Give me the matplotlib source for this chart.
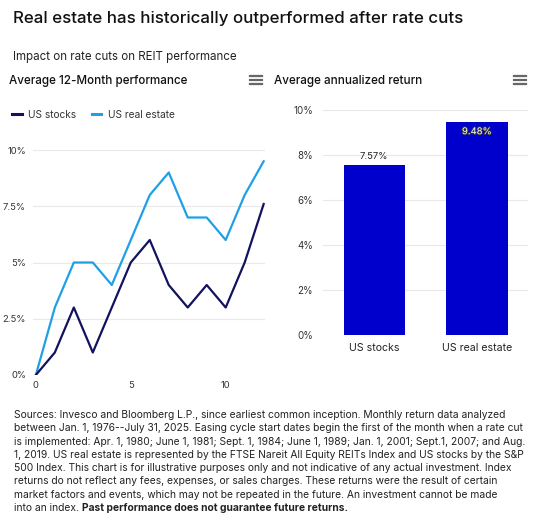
import matplotlib
matplotlib.use("Agg")
import matplotlib.pyplot as plt
import matplotlib.patheffects as pe
from matplotlib.lines import Line2D

plt.rcParams['font.family'] = ['Inter', 'DejaVu Sans']

# data
months = [0, 1, 2, 3, 4, 5, 6, 7, 8, 9, 10, 11, 12]
us_stocks = [0, 1, 3, 1, 3, 5, 6, 4, 3, 4, 3, 5, 7.6]
us_real_estate = [0, 3, 5, 5, 4, 6, 8, 9, 7, 7, 6, 8, 9.5]
line_ticks = [0, 2.5, 5, 7.5, 10]
line_tick_labels = ['0%', '2.5%', '5%', '7.5%', '10%']

bar_categories = ['US stocks', 'US real estate']
bar_values = [7.57, 9.48]
bar_ticks = [0, 2, 4, 6, 8, 10]

W, H = 542, 520
fig = plt.figure(figsize=(W / 100, H / 100), dpi=100)


def box(x0, y0, x1, y1):
    # pixel box (top-left origin) -> figure fraction
    return [x0 / W, 1 - y1 / H, (x1 - x0) / W, (y1 - y0) / H]


def px(x, y):
    return x / W, 1 - y / H


STOCK_C = '#12125e'
RE_C = '#1fa0e6'
BAR_C = '#0000cc'
GRID_C = '#e8e8e8'
TXT_C = '#222222'

fig.text(*px(13, 19), 'Real estate has historically outperformed after rate cuts',
         fontsize=12.2, fontweight='medium', color='#111111', va='center')
fig.text(*px(13, 57), 'Impact on rate cuts on REIT performance',
         fontsize=8.3, color=TXT_C, va='center')
fig.text(*px(9, 81), 'Average 12-Month performance',
         fontsize=8.4, fontweight='medium', color='#111111', va='center')
fig.text(*px(274, 81), 'Average annualized return',
         fontsize=8.4, fontweight='medium', color='#111111', va='center')

# hamburger menus
for xm in (250, 514):
    for ym in (76, 80, 84):
        fig.add_artist(Line2D([xm / W, (xm + 12) / W], [1 - ym / H, 1 - ym / H],
                              color='#666666', lw=1.6, transform=fig.transFigure))

# line chart
ax1 = fig.add_axes(box(33, 150, 265, 375))
ax1.plot(months, us_real_estate, color=RE_C, lw=1.6, label='US real estate')
ax1.plot(months, us_stocks, color=STOCK_C, lw=1.6, label='US stocks')
ax1.set_xlim(-0.15, 12.07)
ax1.set_ylim(0, 10)
ax1.set_yticks(line_ticks)
ax1.set_yticklabels(line_tick_labels)
ax1.set_xticks([0, 5, 10])
ax1.grid(axis='y', color=GRID_C, lw=0.8)
ax1.set_axisbelow(True)
ax1.tick_params(axis='both', length=0, labelsize=6.8, colors='#333333')
ax1.tick_params(axis='y', pad=5)
ax1.tick_params(axis='x', pad=4)
for s in ax1.spines.values():
    s.set_visible(False)
ax1.patch.set_alpha(0)

handles = [Line2D([0], [0], color=STOCK_C, lw=2.2), Line2D([0], [0], color=RE_C, lw=2.2)]
fig.legend(handles, ['US stocks', 'US real estate'], loc='center left',
           bbox_to_anchor=px(3, 115), ncol=2, frameon=False, fontsize=7.3,
           handlelength=0.95, handletextpad=0.65, columnspacing=1.5,
           labelcolor='#333333')

# bar chart
ax2 = fig.add_axes(box(323, 110, 528, 335))
bars = ax2.bar(range(len(bar_categories)), bar_values, width=0.6, color=BAR_C)
ax2.set_xlim(-0.5, 1.5)
ax2.set_ylim(0, 10)
ax2.set_yticks(bar_ticks)
ax2.set_yticklabels([f'{t}%' for t in bar_ticks])
ax2.set_xticks(range(len(bar_categories)))
ax2.set_xticklabels(bar_categories)
ax2.grid(axis='y', color=GRID_C, lw=0.8)
ax2.set_axisbelow(True)
ax2.tick_params(axis='y', length=0, labelsize=7.0, colors='#333333', pad=7)
ax2.tick_params(axis='x', length=0, labelsize=7.6, colors='#222222', pad=6)
for s in ax2.spines.values():
    s.set_visible(False)
ax2.patch.set_alpha(0)

ax2.annotate(f'{bar_values[0]:.2f}%', (0, bar_values[0]), xytext=(0, 3),
             textcoords='offset points', ha='center', va='bottom',
             fontsize=6.8, color='#222222')
ax2.annotate(f'{bar_values[1]:.2f}%', (1, bar_values[1]), xytext=(0, -4),
             textcoords='offset points', ha='center', va='top',
             fontsize=6.8, color='white',
             path_effects=[pe.withStroke(linewidth=1.2, foreground='#333333')])

# footnote
notes = [
    'Sources: Invesco and Bloomberg L.P., since earliest common inception. Monthly return data analyzed',
    'between Jan. 1, 1976--July 31, 2025. Easing cycle start dates begin the first of the month when a rate cut',
    'is implemented: Apr. 1, 1980; June 1, 1981; Sept. 1, 1984; June 1, 1989; Jan. 1, 2001; Sept.1, 2007; and Aug.',
    '1, 2019. US real estate is represented by the FTSE Nareit All Equity REITs Index and US stocks by the S&P',
    '500 Index. This chart is for illustrative purposes only and not indicative of any actual investment. Index',
    'returns do not reflect any fees, expenses, or sales charges. These returns were the result of certain',
    'market factors and events, which may not be repeated in the future. An investment cannot be made',
]
y0 = 415
step = 13.3
for i, line in enumerate(notes):
    fig.text(*px(14, y0 + i * step), line, fontsize=7.4, color=TXT_C, va='center')
last_y = y0 + len(notes) * step
t = fig.text(*px(14, last_y), 'into an index. ', fontsize=7.4, color=TXT_C, va='center')
renderer = fig.canvas.get_renderer()
bb = t.get_window_extent(renderer)
fig.text(bb.x1 / W, 1 - last_y / H, 'Past performance does not guarantee future returns.',
         fontsize=7.4, fontweight='bold', color=TXT_C, va='center')

fig.savefig('out.png', dpi=100)
